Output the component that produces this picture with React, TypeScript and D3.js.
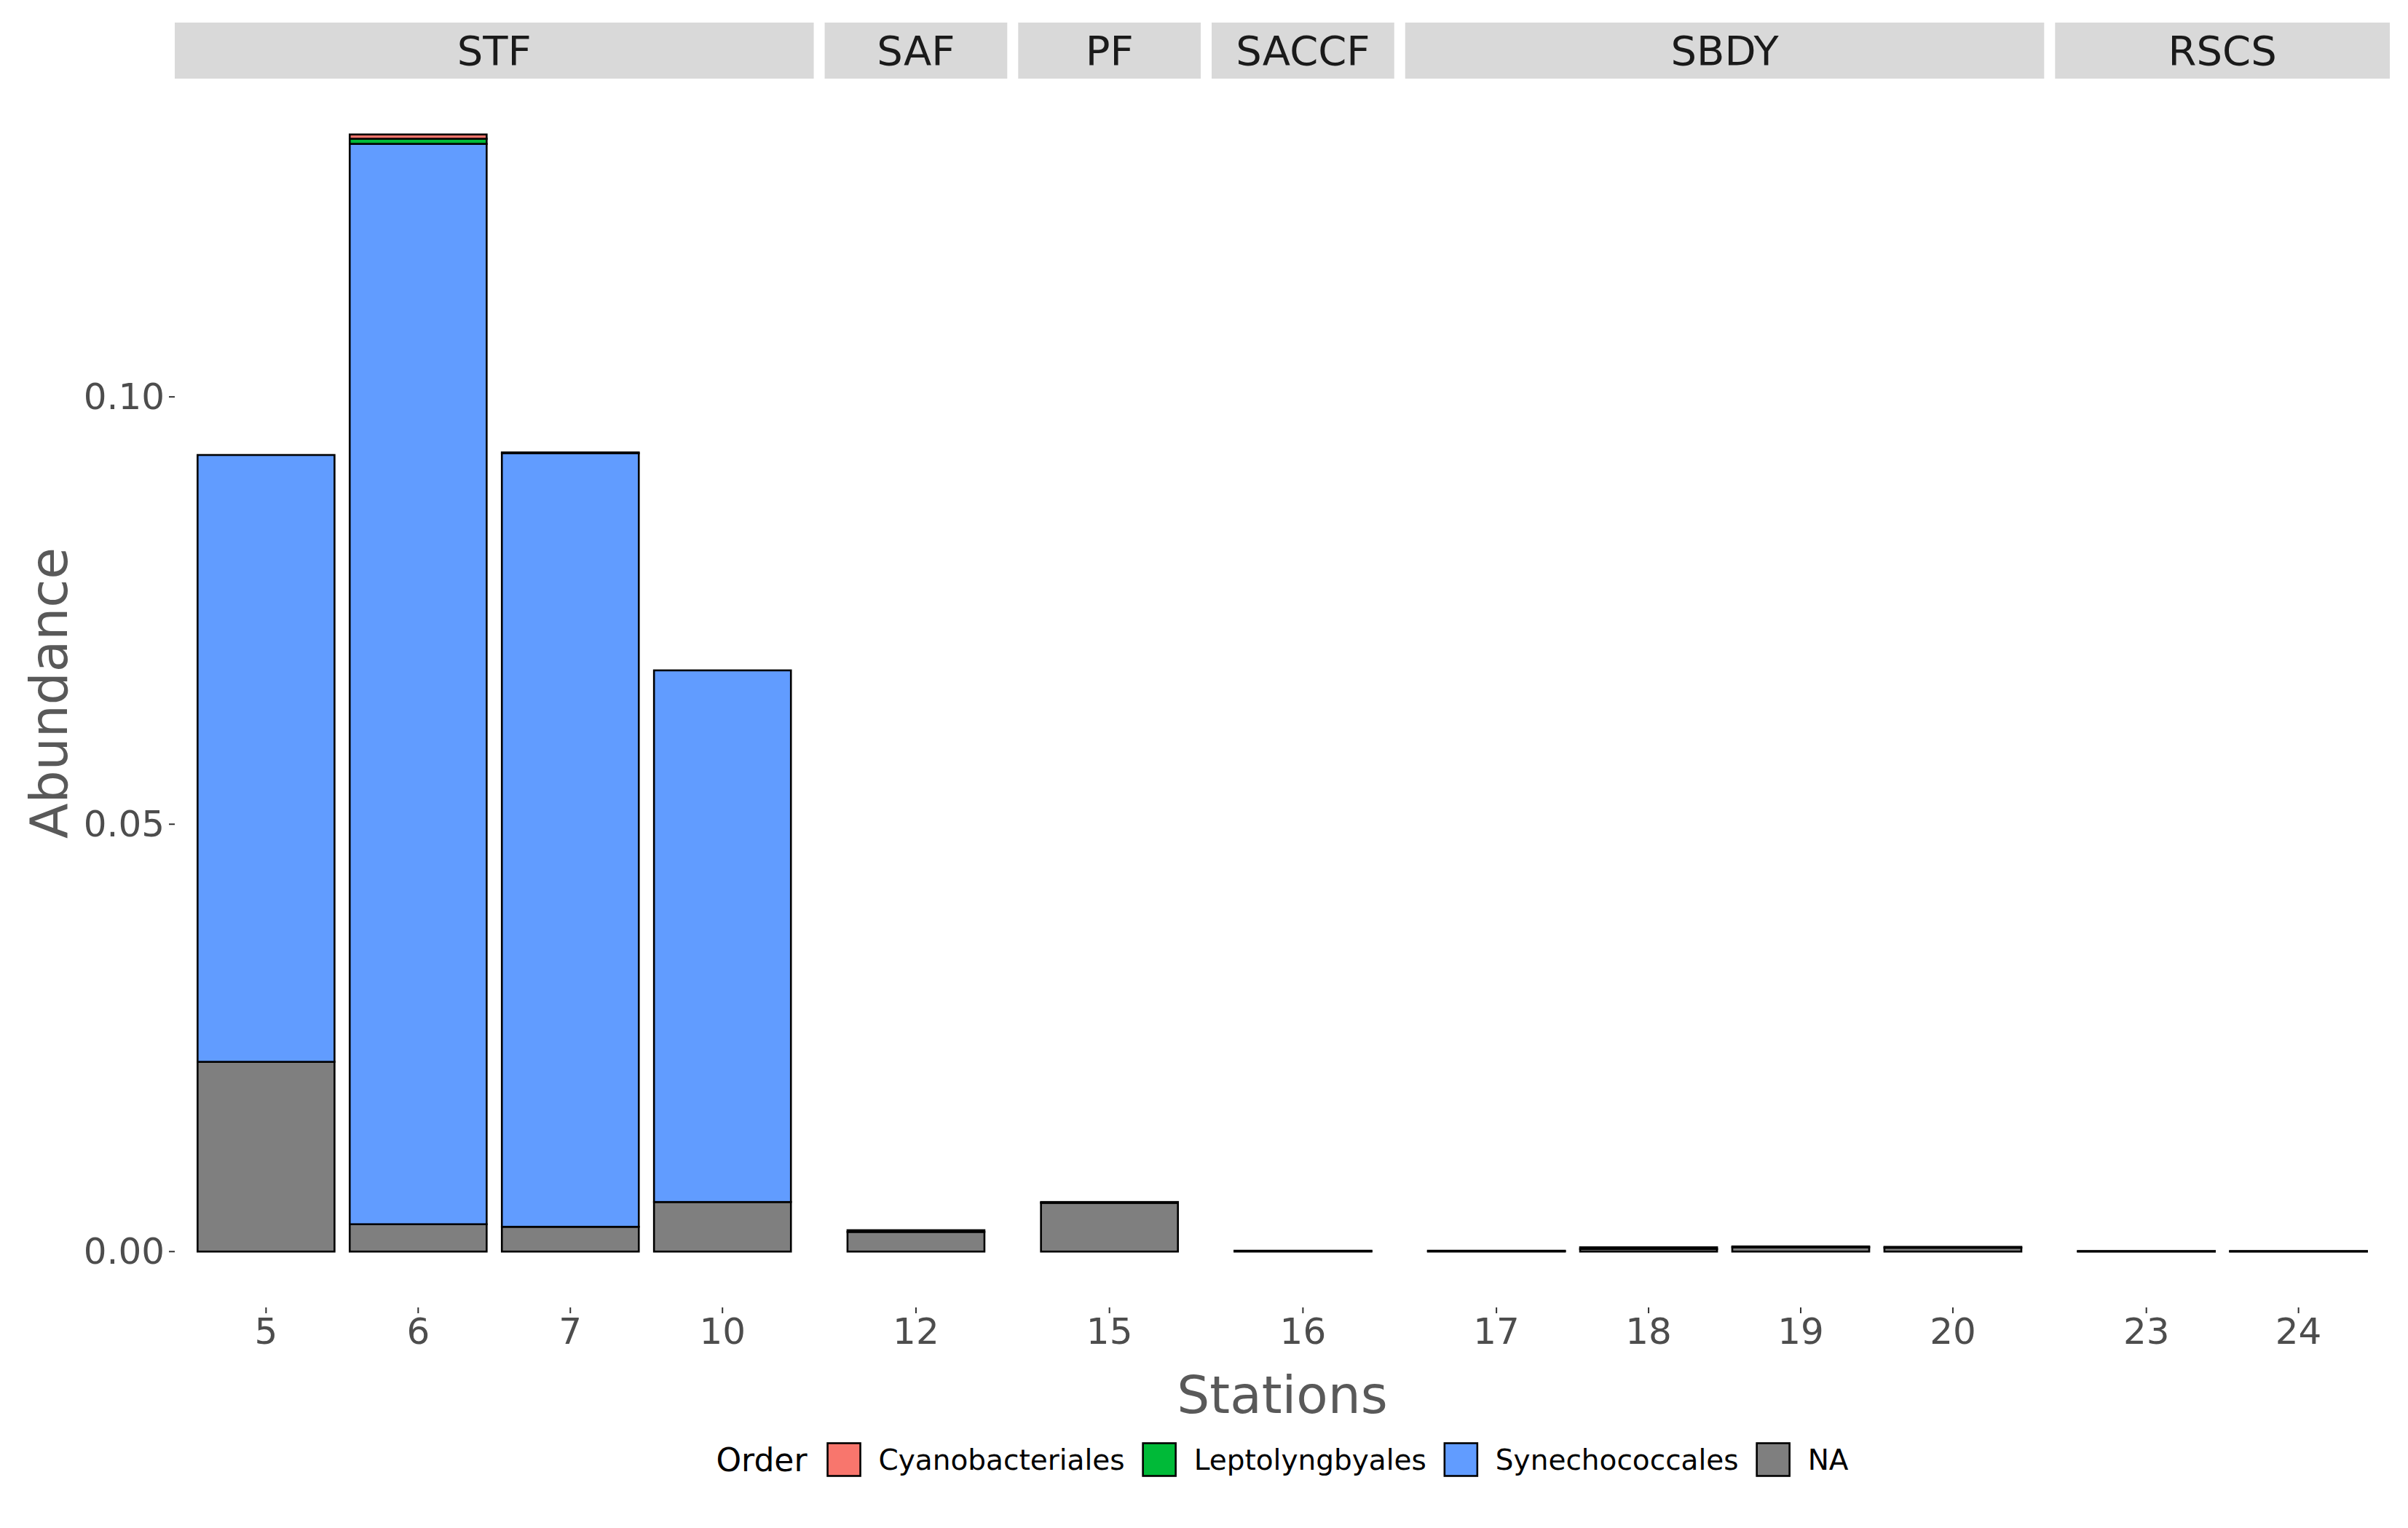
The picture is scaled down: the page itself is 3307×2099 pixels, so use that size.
import React, { useLayoutEffect, useMemo } from 'react';
import * as d3 from 'd3';

// ---- data ----
const stations = ['5', '6', '7', '10', '12', '15', '16', '17', '18', '19', '20', '23', '24'];
const fronts = ['STF', 'STF', 'STF', 'STF', 'SAF', 'PF', 'SACCF', 'SBDY', 'SBDY', 'SBDY', 'SBDY', 'RSCS', 'RSCS'];
const frontOrder = ['STF', 'SAF', 'PF', 'SACCF', 'SBDY', 'RSCS'];
const orderNames = ['Cyanobacteriales', 'Leptolyngbyales', 'Synechococcales', 'NA'];
const cyanobacteriales = [0, 0.0005, 0, 0, 0, 0, 0, 0, 0, 0, 0, 0, 0];
const leptolyngbyales = [0, 0.0006, 0.0001, 0, 0, 0, 0, 0, 0, 0, 0, 0, 0];
const synechococcales = [0.071, 0.1264, 0.0905, 0.0622, 0.0002, 0.0001, 0.00005, 0.00005, 0.0002, 0.0001, 0.0001, 0.00003, 0.00003];
const naValues = [0.0222, 0.0032, 0.0029, 0.0058, 0.0023, 0.0057, 0.00005, 0.00005, 0.0003, 0.0005, 0.00045, 0.00003, 0.00003];
const orderColors = ['#F8766D', '#00BA38', '#619CFF', '#7F7F7F'];
const yTicks = [0, 0.05, 0.1];

const W = 3307;
const H = 2099;
const FONT = 'DejaVu Sans, Verdana, sans-serif';

const measure = (() => {
  let ctx: CanvasRenderingContext2D | null = null;
  return (text: string, size: number) => {
    if (!ctx) ctx = document.createElement('canvas').getContext('2d');
    ctx!.font = `${size}px "DejaVu Sans"`;
    return ctx!.measureText(text).width;
  };
})();

export default function App() {
  useLayoutEffect(() => {
    document.body.style.margin = '0';
  }, []);

  const left = 240, right = 3282, top = 108, bottom = 1796, gap = 15;
  const stripTop = 31;

  const rows = stations.map((s, i) => ({
    station: s,
    front: fronts[i],
    Cyanobacteriales: cyanobacteriales[i],
    Leptolyngbyales: leptolyngbyales[i],
    Synechococcales: synechococcales[i],
    NA: naValues[i],
  }));

  const stackKeys = ['NA', 'Synechococcales', 'Leptolyngbyales', 'Cyanobacteriales'];
  const series = d3.stack<any>().keys(stackKeys)(rows);
  const maxTotal = d3.max(rows, (r) => r.NA + r.Synechococcales + r.Leptolyngbyales + r.Cyanobacteriales) as number;

  const y = d3.scaleLinear().domain([-0.05 * maxTotal, 1.05 * maxTotal]).range([bottom, top]);

  // facets
  const facetCounts = frontOrder.map((f) => fronts.filter((x) => x === f).length);
  const totalUnits = d3.sum(facetCounts, (n) => n + 0.2);
  const unit = (right - left - gap * (frontOrder.length - 1)) / totalUnits;
  const facets: { name: string; x0: number; x1: number; band: d3.ScaleBand<string> }[] = [];
  let cx = left;
  frontOrder.forEach((f, k) => {
    const w = (facetCounts[k] + 0.2) * unit;
    const dom = stations.filter((_, i) => fronts[i] === f);
    const band = d3.scaleBand<string>().domain(dom).range([cx, cx + w]).paddingInner(0.1).paddingOuter(0.15);
    facets.push({ name: f, x0: cx, x1: cx + w, band });
    cx += w + gap;
  });
  const bandFor = (s: string) => {
    const f = facets.find((ff) => ff.band.domain().includes(s))!;
    return f.band;
  };

  // legend layout
  const legendFont = 39, legendTitleFont = 44, key = 45;
  const legendItems = useMemo(() => {
    const titleW = measure('Order', legendTitleFont);
    const labelW = orderNames.map((n) => measure(n, legendFont));
    const total = titleW + 28 + d3.sum(labelW, (w) => key + 25 + w) + 25 * (orderNames.length - 1);
    let x = (left + right) / 2 - total / 2;
    const titleX = x;
    x += titleW + 28;
    const items = orderNames.map((n, i) => {
      const it = { name: n, keyX: x, labelX: x + key + 25, color: orderColors[i] };
      x += key + 25 + labelW[i] + 25;
      return it;
    });
    return { titleX, items };
  }, []);
  const legendY = 2005;

  const colorOf = (k: string) => orderColors[orderNames.indexOf(k)];

  return (
    <svg width={W} height={H} style={{ display: 'block', background: '#fff' }} fontFamily={FONT}>
      <rect x={0} y={0} width={W} height={H} fill="#fff" />
      {/* strips */}
      {facets.map((f) => (
        <g key={f.name}>
          <rect x={f.x0} y={stripTop} width={f.x1 - f.x0} height={top - stripTop} fill="#D9D9D9" />
          <text x={(f.x0 + f.x1) / 2} y={(stripTop + top) / 2} textAnchor="middle" dominantBaseline="central" fontSize={56} fill="#1A1A1A">
            {f.name}
          </text>
        </g>
      ))}
      {/* bars */}
      {series.map((layer) => (
        <g key={layer.key}>
          {layer.map((d, i) => {
            const v = d[1] - d[0];
            if (v <= 0) return null;
            const s = stations[i];
            const band = bandFor(s);
            return (
              <rect
                key={s}
                x={band(s)}
                y={y(d[1])}
                width={band.bandwidth()}
                height={Math.max(0, y(d[0]) - y(d[1]))}
                fill={colorOf(layer.key)}
                stroke="#000"
                strokeWidth={2.6}
              />
            );
          })}
        </g>
      ))}
      {/* y axis */}
      {yTicks.map((t) => (
        <g key={t}>
          <line x1={left - 8} x2={left} y1={y(t)} y2={y(t)} stroke="#333" strokeWidth={2} />
          <text x={left - 14} y={y(t)} textAnchor="end" dominantBaseline="central" fontSize={50} fill="#4D4D4D">
            {d3.format('.2f')(t)}
          </text>
        </g>
      ))}
      {/* x axis */}
      {stations.map((s) => {
        const band = bandFor(s);
        const xc = (band(s) as number) + band.bandwidth() / 2;
        return (
          <g key={s}>
            <line x1={xc} x2={xc} y1={bottom} y2={bottom + 8} stroke="#333" strokeWidth={2} />
            <text x={xc} y={bottom + 50} textAnchor="middle" fontSize={50} fill="#4D4D4D">
              {s}
            </text>
          </g>
        );
      })}
      {/* axis titles */}
      <text x={(left + right) / 2} y={1941} textAnchor="middle" fontSize={71} fill="#595959">
        Stations
      </text>
      <text transform={`translate(92, ${(top + bottom) / 2}) rotate(-90)`} textAnchor="middle" fontSize={71} fill="#595959">
        Abundance
      </text>
      {/* legend */}
      <text x={legendItems.titleX} y={legendY} dominantBaseline="central" fontSize={legendTitleFont} fill="#000">
        Order
      </text>
      {legendItems.items.map((it) => (
        <g key={it.name}>
          <rect x={it.keyX} y={legendY - key / 2} width={key} height={key} fill={it.color} stroke="#000" strokeWidth={2.6} />
          <text x={it.labelX} y={legendY} dominantBaseline="central" fontSize={legendFont} fill="#000">
            {it.name}
          </text>
        </g>
      ))}
    </svg>
  );
}
